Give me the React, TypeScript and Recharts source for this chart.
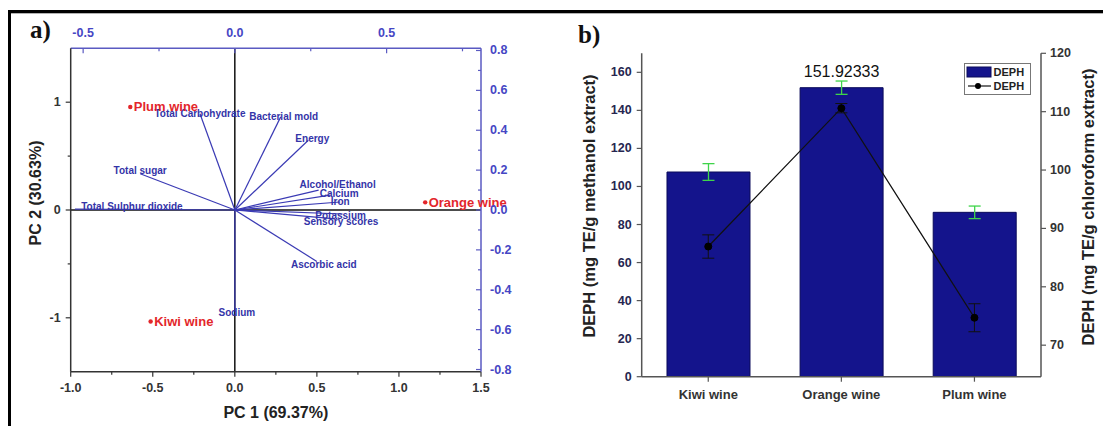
import React from "react";
import {
  ScatterChart,
  Scatter,
  XAxis,
  YAxis,
  ReferenceLine,
  ComposedChart,
  Bar,
  Line,
  ErrorBar,
  Legend,
  LabelList,
  Label,
} from "recharts";

const FONT = "'Liberation Sans', Arial, Helvetica, sans-serif";
const SERIF = "'Liberation Serif', 'Times New Roman', serif";

// ---------- Panel a: PCA biplot ----------
const scoreNames = ["Plum wine", "Kiwi wine", "Orange wine"];
const scorePC1 = [-0.637, -0.513, 1.16];
const scorePC2 = [0.956, -1.034, 0.071];

const loadingNames = [
  "Total Carbohydrate",
  "Bacterial mold",
  "Energy",
  "Total sugar",
  "Total Sulphur dioxide",
  "Alcohol/Ethanol",
  "Calcium",
  "Iron",
  "Potassium",
  "Sensory scores",
  "Ascorbic acid",
  "Sodium",
];
const loadingPC1 = [-0.115, 0.151, 0.242, -0.312, -0.527, 0.276, 0.314, 0.347, 0.355, 0.33, 0.27, 0.0];
const loadingPC2 = [0.483, 0.467, 0.35, 0.182, 0.004, 0.1, 0.075, 0.04, -0.02, -0.045, -0.258, -0.5];

// label placement offsets (pixels, style only)
const loadingLabelDx = [0, 3, 4, 0, 57, 19, 9, 0, -2, 6, 7, 2];
const loadingLabelDy = [0, 0, -2, -3, -3, -5.5, -2, -1, 1.5, 2.5, 3, 3];

const pc1Ticks = [-1, -0.75, -0.5, -0.25, 0, 0.25, 0.5, 0.75, 1, 1.25, 1.5];
const pc1Major = [-1, -0.5, 0, 0.5, 1, 1.5];
const pc2Ticks = [-1, -0.5, 0, 0.5, 1];
const pc2Major = [-1, 0, 1];
const loadXTicks = [-0.5, -0.25, 0, 0.25, 0.5, 0.75];
const loadXMajor = [-0.5, 0, 0.5];
const loadYTicks = [-0.8, -0.7, -0.6, -0.5, -0.4, -0.3, -0.2, -0.1, 0, 0.1, 0.2, 0.3, 0.4, 0.5, 0.6, 0.7, 0.8];
const loadYMajor = [-0.8, -0.6, -0.4, -0.2, 0, 0.2, 0.4, 0.6, 0.8];

// ---------- Panel b: DEPH ----------
const categories = ["Kiwi wine", "Orange wine", "Plum wine"];
const methanolValues = [107.6, 151.92333, 86.4];
const methanolErrors = [4.4, 3.5, 3.3];
const chloroformValues = [86.9, 110.6, 74.7];
const chloroformErrors = [2.0, 0.8, 2.4];
const barTopLabels = ["", "151.92333", ""];
const methanolTicks = [0, 20, 40, 60, 80, 100, 120, 140, 160];
const chloroformTicks = [70, 80, 90, 100, 110, 120];

const scoreRows = scoreNames.map((name, i) => ({ name, x: scorePC1[i], y: scorePC2[i] }));
const loadingRows = loadingNames.map((name, i) => ({
  name,
  x: loadingPC1[i],
  y: loadingPC2[i],
  dx: loadingLabelDx[i],
  dy: loadingLabelDy[i],
}));
const barRows = categories.map((name, i) => ({
  name,
  methanol: methanolValues[i],
  methanolErr: methanolErrors[i],
  chloroform: chloroformValues[i],
  chloroformErr: chloroformErrors[i],
  topLabel: barTopLabels[i],
}));

type Side = "bottom" | "top" | "left" | "right";

function makeTick(
  side: Side,
  major: number[],
  fmt: (v: number) => string,
  color: string,
  tickColor: string,
  inward: boolean,
  majorLen: number,
  minorLen: number,
  fontSize: number,
  gap: number
) {
  return function Tick(props: any) {
    const { x, y, payload } = props;
    const v = Number(payload.value);
    const isMajor = major.some((m) => Math.abs(m - v) < 1e-6);
    const len = isMajor ? majorLen : minorLen;
    const dir = inward ? -1 : 1;
    let x2 = x;
    let y2 = y;
    let tx = x;
    let ty = y;
    let anchor: any = "middle";
    if (side === "bottom") {
      y2 = y + dir * len;
      ty = y + gap;
    } else if (side === "top") {
      y2 = y - dir * len;
      ty = y - gap;
    } else if (side === "left") {
      x2 = x - dir * len;
      tx = x - gap;
      anchor = "end";
    } else {
      x2 = x + dir * len;
      tx = x + gap;
      anchor = "start";
    }
    return (
      <g>
        <line x1={x} y1={y} x2={x2} y2={y2} stroke={tickColor} strokeWidth={1.2} />
        {isMajor && (
          <text
            x={tx}
            y={ty}
            textAnchor={anchor}
            dominantBaseline="central"
            fill={color}
            fontSize={fontSize}
            fontWeight="bold"
            fontFamily={FONT}
          >
            {fmt(v)}
          </text>
        )}
      </g>
    );
  };
}

const fmt1 = (v: number) => v.toFixed(1);
const fmt0 = (v: number) => String(Math.round(v));

const BLUE_TEXT = "#4646c4";
const BLUE_LINE = "#5a5ac2";
const DARK = "#333333";

const pc1Tick = makeTick("bottom", pc1Major, fmt1, DARK, "#333", false, 5, 3, 12.5, 16.3);
const pc2Tick = makeTick("left", pc2Major, fmt0, DARK, "#333", false, 5, 3, 12.5, 10);
const loadXTick = makeTick("top", loadXMajor, fmt1, BLUE_TEXT, BLUE_LINE, true, 5, 3, 12.5, 15.3);
const loadYTick = makeTick("right", loadYMajor, fmt1, BLUE_TEXT, BLUE_LINE, true, 5, 3, 12.5, 9);

const methTick = makeTick("left", methanolTicks, fmt0, "#262650", "#555", false, 5, 3, 12.5, 10);
const chlTick = makeTick("right", chloroformTicks, fmt0, "#333", "#555", false, 5, 3, 12.5, 9);

const CategoryTick = (props: any) => {
  const { x, y, payload } = props;
  return (
    <g>
      <line x1={x} y1={y} x2={x} y2={y + 5} stroke="#555" strokeWidth={1.2} />
      <text
        x={x}
        y={y + 17.3}
        textAnchor="middle"
        dominantBaseline="central"
        fill="#333"
        fontSize={13}
        fontWeight="bold"
        fontFamily={FONT}
      >
        {payload.value}
      </text>
    </g>
  );
};

const ScoreShape = (props: any) => {
  const { cx, cy, payload } = props;
  return (
    <g>
      <circle cx={cx} cy={cy} r={2.2} fill="#e3262b" />
      <text
        x={cx + 3.5}
        y={cy}
        dominantBaseline="central"
        fontSize={13}
        fontWeight="bold"
        fill="#e3262b"
        fontFamily={FONT}
      >
        {payload.name}
      </text>
    </g>
  );
};

const LoadingLabelShape = (props: any) => {
  const { cx, cy, payload } = props;
  return (
    <text
      x={cx + payload.dx}
      y={cy + payload.dy}
      textAnchor="middle"
      dominantBaseline="central"
      fontSize={10}
      fontWeight="bold"
      fill="#3434a8"
      fontFamily={FONT}
    >
      {payload.name}
    </text>
  );
};

const LegendBox = (props: any) => {
  const items = props.payload || [];
  return (
    <div
      style={{
        border: "1px solid #777",
        background: "#fff",
        width: 67,
        padding: "1px 0",
        boxSizing: "border-box",
        fontFamily: FONT,
        fontSize: 11,
        fontWeight: "bold",
        color: "#222",
        lineHeight: "14px",
      }}
    >
      {items.map((it: any, i: number) => (
        <div key={i} style={{ display: "flex", alignItems: "center", height: 14 }}>
          <svg width={28} height={14} style={{ display: "block" }}>
            {it.type === "rect" ? (
              <rect x={2} y={2} width={24} height={10} fill="#14148c" stroke="#0a0a5a" />
            ) : (
              <g>
                <line x1={3} y1={7} x2={26} y2={7} stroke="#111" strokeWidth={1.2} />
                <circle cx={13} cy={7} r={3} fill="#000" />
              </g>
            )}
          </svg>
          <span style={{ marginLeft: 1 }}>{it.value}</span>
        </div>
      ))}
    </div>
  );
};

function PanelA() {
  return (
    <ScatterChart width={540} height={426} margin={{ top: 18.3, right: 9, bottom: 14.3, left: 20.7 }}>
      <XAxis
        xAxisId="bottom"
        orientation="bottom"
        type="number"
        dataKey="x"
        domain={[-1, 1.5]}
        ticks={pc1Ticks}
        interval={0}
        height={40}
        tickSize={0}
        tickMargin={0}
        tickLine={false}
        tick={pc1Tick}
        axisLine={{ stroke: "#333", strokeWidth: 1.5 }}
      >
        <Label
          content={(p: any) => {
            const vb = p.viewBox || {};
            return (
              <text
                x={vb.x + vb.width / 2}
                y={vb.y + 40.5}
                textAnchor="middle"
                dominantBaseline="central"
                fontSize={16}
                fontWeight="bold"
                fill="#222"
                fontFamily={FONT}
              >
                PC 1 (69.37%)
              </text>
            );
          }}
        />
      </XAxis>
      <XAxis
        xAxisId="top"
        orientation="top"
        type="number"
        dataKey="x"
        domain={[-0.541, 0.811]}
        ticks={loadXTicks}
        interval={0}
        height={30}
        tickSize={0}
        tickMargin={0}
        tickLine={false}
        tick={loadXTick}
        axisLine={{ stroke: BLUE_LINE, strokeWidth: 1.5 }}
      />
      <YAxis
        yAxisId="left"
        orientation="left"
        type="number"
        dataKey="y"
        domain={[-1.5, 1.5]}
        ticks={pc2Ticks}
        interval={0}
        width={50}
        tickSize={0}
        tickMargin={0}
        tickLine={false}
        tick={pc2Tick}
        axisLine={{ stroke: "#333", strokeWidth: 1.5 }}
      >
        <Label
          content={(p: any) => {
            const vb = p.viewBox || {};
            const cx = vb.x + 14.3;
            const cy = 193;
            return (
              <text
                x={cx}
                y={cy}
                transform={`rotate(-90 ${cx} ${cy})`}
                textAnchor="middle"
                dominantBaseline="central"
                fontSize={16}
                fontWeight="bold"
                fill="#222"
                fontFamily={FONT}
              >
                PC 2 (30.63%)
              </text>
            );
          }}
        />
      </YAxis>
      <YAxis
        yAxisId="right"
        orientation="right"
        type="number"
        dataKey="y"
        domain={[-0.811, 0.811]}
        ticks={loadYTicks}
        interval={0}
        width={50}
        tickSize={0}
        tickMargin={0}
        tickLine={false}
        tick={loadYTick}
        axisLine={{ stroke: BLUE_LINE, strokeWidth: 1.5 }}
      />
      <ReferenceLine xAxisId="bottom" yAxisId="left" x={0} stroke="#111" strokeWidth={1.5} />
      <ReferenceLine xAxisId="bottom" yAxisId="left" y={0} stroke="#111" strokeWidth={1.5} />
      {loadingRows.map((r) => (
        <ReferenceLine
          key={r.name}
          xAxisId="top"
          yAxisId="right"
          segment={[
            { x: 0, y: 0 },
            { x: r.x, y: r.y },
          ]}
          stroke="#3a3ab4"
          strokeWidth={1.2}
        />
      ))}
      <Scatter
        xAxisId="top"
        yAxisId="right"
        data={loadingRows}
        shape={LoadingLabelShape}
        isAnimationActive={false}
      />
      <Scatter
        xAxisId="bottom"
        yAxisId="left"
        data={scoreRows}
        shape={ScoreShape}
        isAnimationActive={false}
      />
    </ScatterChart>
  );
}

function PanelB() {
  return (
    <ComposedChart
      width={563}
      height={426}
      data={barRows}
      margin={{ top: 53.3, right: 12, bottom: 19.3, left: 41.7 }}
      barCategoryGap="19%"
    >
      <XAxis
        dataKey="name"
        height={30}
        interval={0}
        tickSize={0}
        tickMargin={0}
        tickLine={false}
        tick={CategoryTick}
        axisLine={{ stroke: "#555", strokeWidth: 1.5 }}
      />
      <YAxis
        yAxisId="left"
        orientation="left"
        type="number"
        domain={[0, 170]}
        ticks={methanolTicks}
        interval={0}
        allowDataOverflow
        width={60}
        tickSize={0}
        tickMargin={0}
        tickLine={false}
        tick={methTick}
        axisLine={{ stroke: "#555", strokeWidth: 1.5 }}
      >
        <Label
          content={(p: any) => {
            const vb = p.viewBox || {};
            const cx = vb.x + 7.5;
            const cy = 206;
            return (
              <text
                x={cx}
                y={cy}
                transform={`rotate(-90 ${cx} ${cy})`}
                textAnchor="middle"
                dominantBaseline="central"
                fontSize={16.5}
                fontWeight="bold"
                fill="#222"
                fontFamily={FONT}
              >
                DEPH (mg TE/g methanol extract)
              </text>
            );
          }}
        />
      </YAxis>
      <YAxis
        yAxisId="right"
        orientation="right"
        type="number"
        domain={[64.6, 120]}
        ticks={chloroformTicks}
        interval={0}
        allowDataOverflow
        width={50}
        tickSize={0}
        tickMargin={0}
        tickLine={false}
        tick={chlTick}
        axisLine={{ stroke: "#555", strokeWidth: 1.5 }}
      >
        <Label
          content={(p: any) => {
            const vb = p.viewBox || {};
            const cx = vb.x + 46.5;
            const cy = 207;
            return (
              <text
                x={cx}
                y={cy}
                transform={`rotate(-90 ${cx} ${cy})`}
                textAnchor="middle"
                dominantBaseline="central"
                fontSize={16.5}
                fontWeight="bold"
                fill="#222"
                fontFamily={FONT}
              >
                DEPH (mg TE/g chloroform extract)
              </text>
            );
          }}
        />
      </YAxis>
      <Bar
        yAxisId="left"
        dataKey="methanol"
        name="DEPH"
        fill="#14148c"
        stroke="#0a0a5a"
        strokeWidth={1}
        isAnimationActive={false}
      >
        <ErrorBar dataKey="methanolErr" width={6} stroke="#3fd44a" strokeWidth={1.3} />
        <LabelList
          dataKey="topLabel"
          content={(p: any) => {
            if (!p.value) return null;
            return (
              <text
                x={p.x + p.width / 2}
                y={p.y - 16.5}
                textAnchor="middle"
                dominantBaseline="central"
                fontSize={16}
                fontWeight={500}
                fill="#111"
                fontFamily={FONT}
              >
                {p.value}
              </text>
            );
          }}
        />
      </Bar>
      <Line
        yAxisId="right"
        dataKey="chloroform"
        name="DEPH"
        stroke="#111"
        strokeWidth={1.3}
        dot={{ r: 3.5, fill: "#000", stroke: "#000", strokeWidth: 1 }}
        isAnimationActive={false}
      >
        <ErrorBar dataKey="chloroformErr" width={6} stroke="#111" strokeWidth={1} />
      </Line>
      <Legend
        layout="vertical"
        align="center"
        verticalAlign="middle"
        wrapperStyle={{ left: 423.6, top: 63.3, width: 67, bottom: "auto", right: "auto" }}
        content={LegendBox}
      />
    </ComposedChart>
  );
}

export default function App() {
  return (
    <div
      style={{
        position: "absolute",
        left: 0,
        top: 0,
        width: 1103,
        height: 426,
        background: "#fff",
        overflow: "hidden",
      }}
    >
      <div style={{ position: "absolute", left: 0, top: 0 }}>
        <PanelA />
      </div>
      <div style={{ position: "absolute", left: 540, top: 0 }}>
        <PanelB />
      </div>
      <svg
        width={1103}
        height={426}
        style={{ position: "absolute", left: 0, top: 0, pointerEvents: "none" }}
      >
        <rect x={8} y={10} width={1095} height={3.3} fill="#000" />
        <rect x={8} y={10} width={3} height={416} fill="#000" />
        <text x={30} y={38} fontSize={25} fontWeight="bold" fontFamily={SERIF} fill="#111">
          a)
        </text>
        <text x={578} y={43} fontSize={25} fontWeight="bold" fontFamily={SERIF} fill="#111">
          b)
        </text>
      </svg>
    </div>
  );
}
